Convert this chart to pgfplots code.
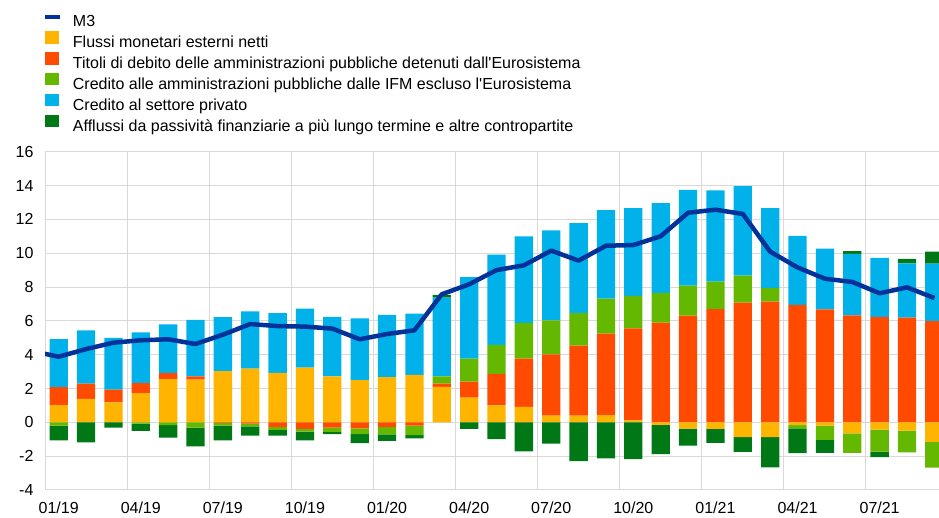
\documentclass[border=0pt]{standalone}
\usepackage{fontspec}
\setmainfont{Liberation Sans}
\usepackage{pgfplots}
\usepackage{pgfplotstable}
\pgfplotsset{compat=1.18}
\definecolor{cOr}{HTML}{FFB400}
\definecolor{cRd}{HTML}{FF4B00}
\definecolor{cLg}{HTML}{65B800}
\definecolor{cBl}{HTML}{00B1EA}
\definecolor{cDg}{HTML}{007816}
\definecolor{cM3}{HTML}{003299}
\definecolor{cGr}{HTML}{D9D9D9}

% positive parts (p) and negative parts (n) of each contribution
\pgfplotstableread{
x  op   rp   gp   bp   dp   on    rn    gn    dn
0  1.02 1.06 0    2.84 0    0     0     -0.20 -0.87
1  1.38 0.91 0    3.15 0    0     0     0     -1.18
2  1.18 0.75 0    3.07 0    0     0     0     -0.32
3  1.73 0.59 0    3.00 0    0     0     -0.08 -0.43
4  2.56 0.35 0    2.88 0    0     0     -0.16 -0.75
5  2.52 0.20 0    3.33 0    0     0     -0.32 -1.10
6  3.03 0    0    3.19 0    0     -0.04 -0.16 -0.87
7  3.17 0    0    3.39 0    0     -0.08 -0.16 -0.55
8  2.92 0    0    3.53 0    0     -0.28 -0.16 -0.35
9  3.23 0    0    3.49 0    0     -0.39 -0.16 -0.51
10 2.72 0    0    3.51 0    0     -0.32 -0.24 -0.14
11 2.50 0    0    3.65 0    0     -0.35 -0.35 -0.53
12 2.68 0    0    3.67 0    0     -0.28 -0.43 -0.39
13 2.80 0    0    3.63 0    0     -0.20 -0.55 -0.20
14 2.09 0.20 0.43 4.65 0.16 0     0     0     0
15 1.46 0.95 1.36 4.81 0    0     0     0     -0.39
16 1.00 1.87 1.71 5.34 0    0     0     0     -0.99
17 0.91 2.86 2.11 5.12 0    0     0     0     -1.71
18 0.39 3.63 2.01 5.32 0    0     0     0     -1.26
19 0.39 4.14 1.93 5.32 0    0     0     0     -2.29
20 0.43 4.81 2.07 5.24 0    0     0     0     -2.13
21 0.12 5.44 1.91 5.20 0    0     0     0     -2.17
22 0    5.89 1.77 5.30 0    -0.15 0     0     -1.73
23 0    6.31 1.77 5.67 0    -0.37 0     0     -1.00
24 0    6.70 1.62 5.40 0    -0.39 0     0     -0.83
25 0    7.07 1.60 5.30 0    -0.87 0     0     -0.87
26 0    7.13 0.81 4.73 0    -0.87 0     0     -1.79
27 0    6.94 0    4.08 0    -0.16 0     -0.20 -1.46
28 0    6.68 0    3.59 0    -0.20 0     -0.83 -0.77
29 0    6.33 0    3.63 0.16 -0.65 0     -1.16 0
30 0    6.23 0    3.49 0    -0.43 0     -1.30 -0.33
31 0    6.19 0    3.21 0.26 -0.49 0     -1.28 0
32 0    5.99 0    3.39 0.71 -1.16 0     -1.52 0
}\bars

\pgfplotstableread{
x  m
-1 4.22
0  3.88
1  4.33
2  4.71
3  4.85
4  4.91
5  4.63
6  5.18
7  5.81
8  5.69
9  5.66
10 5.54
11 4.91
12 5.22
13 5.44
14 7.57
15 8.16
16 9.00
17 9.28
18 10.15
19 9.56
20 10.44
21 10.48
22 11.00
23 12.39
24 12.57
25 12.32
26 10.09
27 9.16
28 8.49
29 8.30
30 7.63
31 7.98
32 7.35
}\mthree

\pgfplotsset{
  base/.style={scale only axis, width=894pt, height=338.3pt,
    xmin=-0.5, xmax=32.17, ymin=-4, ymax=16,
    at={(45pt,28pt)}, anchor=south west},
  sqleg/.style={legend image code/.code={\fill[##1] (0pt,-0.45pt) rectangle (14pt,11.85pt);}},
}

\begin{document}
\begin{tikzpicture}
\useasboundingbox (0,0) rectangle (939pt,518pt);
\begin{axis}[base, ybar stacked, bar width=18.3pt,
  axis line style={draw=none},
  major tick length=0pt, minor tick length=0pt,
  ymajorgrids, xminorgrids,
  major grid style={cGr, line width=1pt},
  minor grid style={cGr, line width=1pt},
  xtick={0,3,...,30},
  xticklabels={01/19,04/19,07/19,10/19,01/20,04/20,07/20,10/20,01/21,04/21,07/21},
  minor xtick={-0.5,2.5,...,29.5},
  ytick={-4,-2,...,16},
  yticklabels={-4,-2,0,2,4,6,8,10,12,14,16},
  tick label style={font=\fontsize{16}{19}\selectfont},
  yticklabel style={xshift=-8pt},
  xticklabel style={yshift=-8.7pt},
  legend cell align=left,
  legend style={at={(axis description cs:-0.0022,1.406)}, anchor=north west,
    draw=none, fill=none, inner sep=0pt, row sep=1.3pt,
    font=\fontsize{16}{19}\selectfont,
    nodes={inner sep=0pt, text height=12pt, text depth=3.5pt},
    /tikz/every odd column/.append style={column sep=10.7pt}},
]
\addlegendimage{legend image code/.code={\draw[cM3, line width=4pt] (0pt,5.7pt) -- (15pt,5.7pt);}}
\addlegendentry{M3}
\addplot[fill=cOr, draw=none, sqleg] table[x=x,y=op]{\bars};
\addlegendentry{Flussi monetari esterni netti}
\addplot[fill=cRd, draw=none, sqleg] table[x=x,y=rp]{\bars};
\addlegendentry{Titoli di debito delle amministrazioni pubbliche detenuti dall\textquotesingle Eurosistema}
\addplot[fill=cLg, draw=none, sqleg] table[x=x,y=gp]{\bars};
\addlegendentry{Credito alle amministrazioni pubbliche dalle IFM escluso l\textquotesingle Eurosistema}
\addplot[fill=cBl, draw=none, sqleg] table[x=x,y=bp]{\bars};
\addlegendentry{Credito al settore privato}
\addplot[fill=cDg, draw=none, sqleg] table[x=x,y=dp]{\bars};
\addlegendentry{Afflussi da passività finanziarie a più lungo termine e altre contropartite}
\end{axis}

\begin{axis}[base, hide axis, ybar stacked, bar width=18.3pt]
\addplot[fill=cOr, draw=none] table[x=x,y=on]{\bars};
\addplot[fill=cRd, draw=none] table[x=x,y=rn]{\bars};
\addplot[fill=cLg, draw=none] table[x=x,y=gn]{\bars};
\addplot[fill=cDg, draw=none] table[x=x,y=dn]{\bars};
\end{axis}

\begin{axis}[base, hide axis]
\addplot[cM3, line width=4.5pt, no markers, line join=round] table[x=x,y=m]{\mthree};
\end{axis}
\end{tikzpicture}
\end{document}
